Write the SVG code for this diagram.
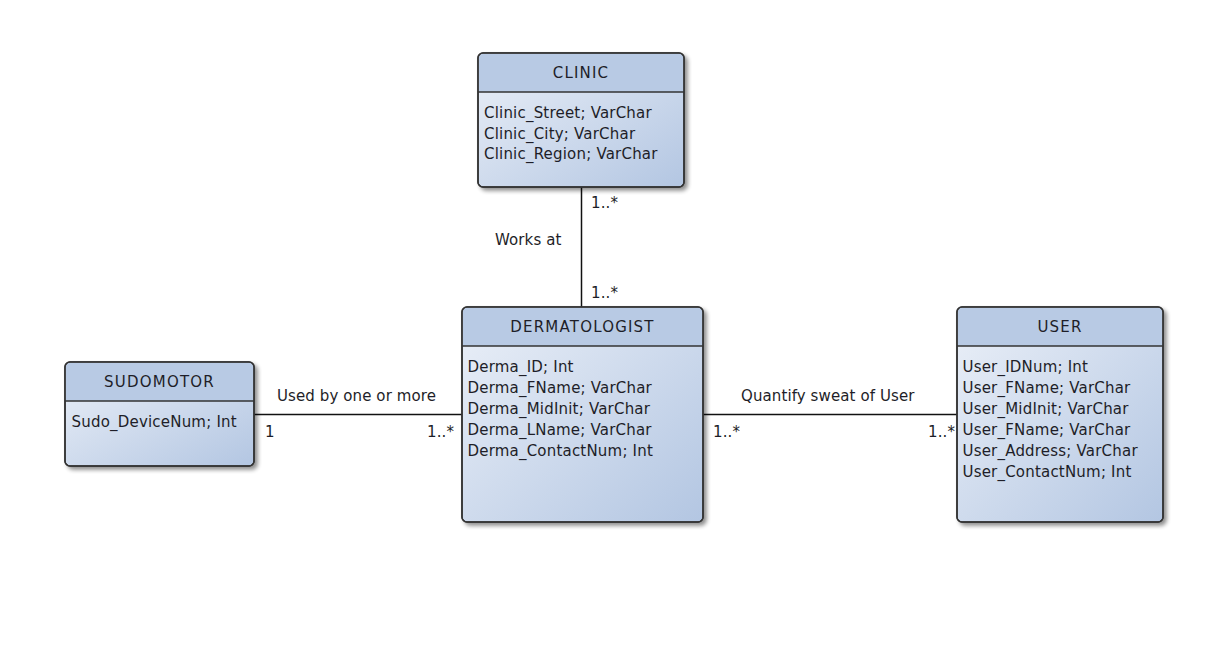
<svg xmlns="http://www.w3.org/2000/svg" width="1220" height="645" viewBox="0 0 1220 645">
<style>
.box{stroke:#333;stroke-width:1.5;fill:url(#body)}
.hdr{fill:#b8cae4;stroke:none}
.sep{stroke:#333;stroke-width:1.5}
.title{font-family:"DejaVu Sans",sans-serif;font-size:15px;fill:#1e1e28;text-anchor:middle;letter-spacing:1.2px}
.attr{font-family:"DejaVu Sans",sans-serif;font-size:15px;fill:#1e1e28;letter-spacing:0.2px}
.lbl{font-family:"DejaVu Sans",sans-serif;font-size:15px;fill:#1e1e28;letter-spacing:0.1px}
.conn{stroke:#111;stroke-width:1.5;fill:none}
</style>
<defs>
<linearGradient id="body" x1="0" y1="0" x2="1" y2="1">
<stop offset="0" stop-color="#ebf0f8"/>
<stop offset="1" stop-color="#b3c6e2"/>
</linearGradient>
<filter id="sh" x="-10%" y="-10%" width="125%" height="125%">
<feGaussianBlur in="SourceAlpha" stdDeviation="2"/>
<feOffset dx="2.5" dy="2.5" result="b"/>
<feComponentTransfer><feFuncA type="linear" slope="0.45"/></feComponentTransfer>
<feMerge><feMergeNode/><feMergeNode in="SourceGraphic"/></feMerge>
</filter>
</defs>
<rect width="1220" height="645" fill="#fff"/>
<g id="connectors">
<line class="conn" x1="581.5" y1="187" x2="581.5" y2="307"/>
<line class="conn" x1="254" y1="414.5" x2="462" y2="414.5"/>
<line class="conn" x1="703" y1="414.5" x2="957" y2="414.5"/>
<text class="lbl" x="591" y="208">1..*</text>
<text class="lbl" x="495" y="245">Works at</text>
<text class="lbl" x="591" y="298">1..*</text>
<text class="lbl" x="277" y="401">Used by one or more</text>
<text class="lbl" x="265" y="437">1</text>
<text class="lbl" x="427" y="437">1..*</text>
<text class="lbl" x="741" y="401">Quantify sweat of User</text>
<text class="lbl" x="713" y="437">1..*</text>
<text class="lbl" x="928" y="437">1..*</text>
</g>
<g id="clinic">
<g filter="url(#sh)">
<rect class="box" x="478" y="53" width="206" height="134" rx="5"/>
</g>
<path class="hdr" d="M483.5,53.75 h195.5 a4.25,4.25 0 0 1 4.25,4.25 v34 h-204.5 v-34 a4.25,4.25 0 0 1 4.25,-4.25z"/>
<rect x="478" y="53" width="206" height="134" rx="5" fill="none" stroke="#333" stroke-width="1.5"/>
<line class="sep" x1="478" y1="92" x2="684" y2="92"/>
<text class="title" x="581" y="78">CLINIC</text>
<text class="attr" x="484" y="118">Clinic_Street; VarChar</text>
<text class="attr" x="484" y="138.5">Clinic_City; VarChar</text>
<text class="attr" x="484" y="159">Clinic_Region; VarChar</text>
</g>
<g id="dermatologist">
<g filter="url(#sh)">
<rect class="box" x="462" y="307" width="241" height="215" rx="5"/>
</g>
<path class="hdr" d="M467,307.75 h231 a4.25,4.25 0 0 1 4.25,4.25 v34 h-239.5 v-34 a4.25,4.25 0 0 1 4.25,-4.25z"/>
<rect x="462" y="307" width="241" height="215" rx="5" fill="none" stroke="#333" stroke-width="1.5"/>
<line class="sep" x1="462" y1="346" x2="703" y2="346"/>
<text class="title" x="582.5" y="332">DERMATOLOGIST</text>
<text class="attr" x="467.5" y="372">Derma_ID; Int</text>
<text class="attr" x="467.5" y="393">Derma_FName; VarChar</text>
<text class="attr" x="467.5" y="414">Derma_MidInit; VarChar</text>
<text class="attr" x="467.5" y="435">Derma_LName; VarChar</text>
<text class="attr" x="467.5" y="456">Derma_ContactNum; Int</text>
</g>
<g id="sudomotor">
<g filter="url(#sh)">
<rect class="box" x="65" y="362" width="189" height="104" rx="5"/>
</g>
<path class="hdr" d="M70,362.75 h179 a4.25,4.25 0 0 1 4.25,4.25 v34 h-187.5 v-34 a4.25,4.25 0 0 1 4.25,-4.25z"/>
<rect x="65" y="362" width="189" height="104" rx="5" fill="none" stroke="#333" stroke-width="1.5"/>
<line class="sep" x1="65" y1="401" x2="254" y2="401"/>
<text class="title" x="159.5" y="387">SUDOMOTOR</text>
<text class="attr" x="71.5" y="427">Sudo_DeviceNum; Int</text>
</g>
<g id="user">
<g filter="url(#sh)">
<rect class="box" x="957" y="307" width="206" height="215" rx="5"/>
</g>
<path class="hdr" d="M962,307.75 h196 a4.25,4.25 0 0 1 4.25,4.25 v34 h-204.5 v-34 a4.25,4.25 0 0 1 4.25,-4.25z"/>
<rect x="957" y="307" width="206" height="215" rx="5" fill="none" stroke="#333" stroke-width="1.5"/>
<line class="sep" x1="957" y1="346" x2="1163" y2="346"/>
<text class="title" x="1060" y="332">USER</text>
<text class="attr" x="962.5" y="372">User_IDNum; Int</text>
<text class="attr" x="962.5" y="393">User_FName; VarChar</text>
<text class="attr" x="962.5" y="414">User_MidInit; VarChar</text>
<text class="attr" x="962.5" y="435">User_FName; VarChar</text>
<text class="attr" x="962.5" y="456">User_Address; VarChar</text>
<text class="attr" x="962.5" y="477">User_ContactNum; Int</text>
</g>
</svg>
